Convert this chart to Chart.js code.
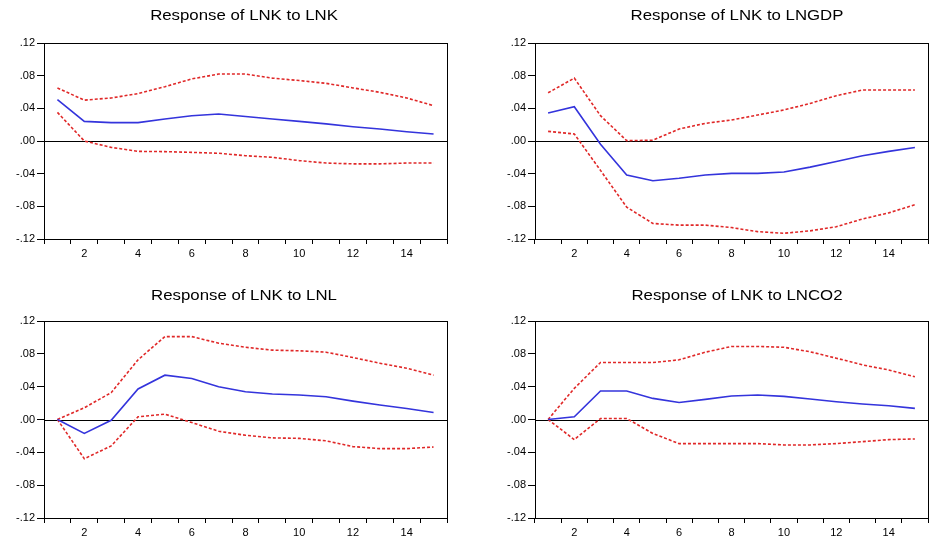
<!DOCTYPE html>
<html>
<head>
<meta charset="utf-8">
<script src="https://cdn.jsdelivr.net/npm/chart.js@4.4.0/dist/chart.umd.min.js"></script>
<style>
  body { margin: 0; background: #fff; }
  #wrap { position: relative; width: 930px; height: 536px; overflow: hidden; }
  canvas { position: absolute; }
</style>
</head>
<body>
<div id="wrap">
  <canvas id="c1" width="465" height="268" style="left:0;top:0"></canvas>
  <canvas id="c2" width="465" height="268" style="left:465px;top:0"></canvas>
  <canvas id="c3" width="465" height="268" style="left:0;top:268px"></canvas>
  <canvas id="c4" width="465" height="268" style="left:465px;top:268px"></canvas>
</div>
<script>
const periods = ["1","2","3","4","5","6","7","8","9","10","11","12","13","14","15"]
const yTicks = [-0.12, -0.08, -0.04, 0, 0.04, 0.08, 0.12]

// response of LNK to LNK
const lnkResp  = [0.0506, 0.024, 0.0225, 0.0225, 0.027, 0.031, 0.033, 0.030, 0.027, 0.024, 0.021, 0.0175, 0.0147, 0.0114, 0.0086]
const lnkUpper = [0.065, 0.050, 0.0527, 0.058, 0.0665, 0.076, 0.082, 0.082, 0.077, 0.074, 0.0706, 0.065, 0.0596, 0.0527, 0.0433]
const lnkLower = [0.035, 0.000, -0.0078, -0.0127, -0.013, -0.0139, -0.015, -0.018, -0.020, -0.024, -0.027, -0.028, -0.028, -0.027, -0.027]

// response of LNK to LNGDP
const gdpResp  = [0.0343, 0.042, -0.004, -0.0416, -0.0486, -0.0457, -0.0416, -0.0396, -0.0396, -0.038, -0.032, -0.025, -0.018, -0.0127, -0.008]
const gdpUpper = [0.059, 0.077, 0.031, 0.0004, 0.001, 0.0147, 0.0216, 0.0257, 0.0318, 0.038, 0.046, 0.0555, 0.0624, 0.0624, 0.0624]
const gdpLower = [0.0118, 0.0086, -0.036, -0.081, -0.101, -0.103, -0.103, -0.106, -0.111, -0.113, -0.110, -0.105, -0.0955, -0.088, -0.078]

// response of LNK to LNL
const lnlResp  = [0, -0.017, -0.001, 0.0372, 0.054, 0.050, 0.040, 0.0339, 0.031, 0.0298, 0.0278, 0.0224, 0.0176, 0.0135, 0.0086]
const lnlUpper = [0, 0.0143, 0.0327, 0.0727, 0.101, 0.101, 0.093, 0.088, 0.0845, 0.0837, 0.082, 0.0755, 0.0686, 0.0624, 0.054]
const lnlLower = [0, -0.0478, -0.0322, 0.0033, 0.0065, -0.0037, -0.0143, -0.0192, -0.0224, -0.023, -0.026, -0.033, -0.0355, -0.0355, -0.0335]

// response of LNK to LNCO2
const co2Resp  = [0, 0.0033, 0.0347, 0.0347, 0.0257, 0.0208, 0.0245, 0.0286, 0.0298, 0.0282, 0.0249, 0.0216, 0.0188, 0.0167, 0.0135]
const co2Upper = [0, 0.038, 0.0694, 0.0694, 0.0694, 0.0727, 0.082, 0.089, 0.089, 0.088, 0.0825, 0.0747, 0.0665, 0.0604, 0.052]
const co2Lower = [0, -0.0245, 0.0012, 0.0012, -0.017, -0.0294, -0.0294, -0.0294, -0.0294, -0.031, -0.031, -0.0294, -0.027, -0.0245, -0.0237]

const FONT = "'Liberation Sans', Arial, sans-serif"

function fmt(v) {
  const s = Math.abs(v).toFixed(2).replace(/^0/, "")
  return (v < -1e-9 ? "-" : "") + s
}

// box around the plot, zero line, and the title drawn a bit wide like the original
const framePlugin = {
  id: "frame",
  beforeDatasetsDraw(chart) {
    const { ctx, chartArea: a, scales } = chart
    const y0 = scales.y.getPixelForValue(0)
    ctx.save()
    ctx.strokeStyle = "#000"
    ctx.lineWidth = 1
    ctx.beginPath()
    ctx.moveTo(a.left, Math.round(y0) + 0.5)
    ctx.lineTo(a.right, Math.round(y0) + 0.5)
    ctx.stroke()
    ctx.restore()
  },
  afterDraw(chart, args, opts) {
    const { ctx, chartArea: a } = chart
    ctx.save()
    ctx.strokeStyle = "#000"
    ctx.lineWidth = 1
    ctx.strokeRect(Math.round(a.left) + 0.5, Math.round(a.top) + 0.5,
      Math.round(a.right - a.left), Math.round(a.bottom - a.top))
    ctx.fillStyle = "#000"
    ctx.font = "14px " + FONT
    ctx.textAlign = "center"
    ctx.textBaseline = "middle"
    ctx.translate(opts.x, opts.y)
    ctx.scale(1.2, 1)
    ctx.fillText(opts.text, 0, 0)
    ctx.restore()
  }
}

function makeChart(id, title, resp, upper, lower, box) {
  const redLine = data => ({
    data: data,
    borderColor: "#e02828",
    borderWidth: 1.6,
    borderDash: [3, 2],
    pointRadius: 0,
    fill: false,
    tension: 0
  })
  new Chart(document.getElementById(id), {
    type: "line",
    data: {
      labels: periods,
      datasets: [
        { data: resp, borderColor: "#3434dc", borderWidth: 1.6, pointRadius: 0, fill: false, tension: 0 },
        redLine(upper),
        redLine(lower)
      ]
    },
    plugins: [framePlugin],
    options: {
      responsive: false,
      animation: false,
      events: [],
      layout: {
        padding: { left: box.left - 40, right: 465 - box.right, top: box.top, bottom: 268 - box.bottom - 24 }
      },
      plugins: {
        legend: { display: false },
        title: { display: false },
        tooltip: { enabled: false },
        frame: { text: title, x: box.tx, y: box.ty }
      },
      scales: {
        x: {
          offset: true,
          grid: { offset: true, drawOnChartArea: false, tickLength: 5, color: "#000" },
          border: { color: "#000" },
          ticks: {
            autoSkip: false,
            maxRotation: 0,
            padding: 3,
            color: "#000",
            font: { family: FONT, size: 11 },
            callback: (v, i) => (i % 2 === 1 ? periods[i] : "")
          },
          afterFit: s => { s.height = 24 }
        },
        y: {
          min: -0.12,
          max: 0.12,
          afterBuildTicks: s => { s.ticks = yTicks.map(v => ({ value: v })) },
          grid: { drawOnChartArea: false, tickLength: 7, color: "#000" },
          border: { color: "#000" },
          ticks: {
            padding: 2,
            color: "#000",
            font: { family: FONT, size: 11 },
            callback: v => fmt(v)
          },
          afterFit: s => { s.width = 40 }
        }
      }
    }
  })
}

makeChart("c1", "Response of LNK to LNK", lnkResp, lnkUpper, lnkLower,
  { left: 44, right: 447, top: 43, bottom: 239, tx: 244, ty: 16 })
makeChart("c2", "Response of LNK to LNGDP", gdpResp, gdpUpper, gdpLower,
  { left: 70, right: 463, top: 43, bottom: 239, tx: 272, ty: 16 })
makeChart("c3", "Response of LNK to LNL", lnlResp, lnlUpper, lnlLower,
  { left: 44, right: 447, top: 53, bottom: 250, tx: 244, ty: 28 })
makeChart("c4", "Response of LNK to LNCO2", co2Resp, co2Upper, co2Lower,
  { left: 70, right: 463, top: 53, bottom: 250, tx: 272, ty: 28 })
</script>
</body>
</html>
